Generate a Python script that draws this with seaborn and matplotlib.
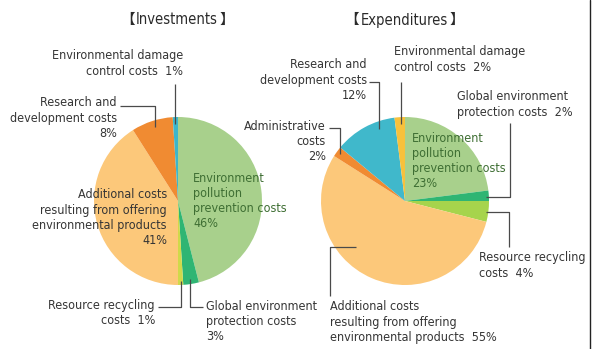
import matplotlib
matplotlib.use("Agg")
import matplotlib.pyplot as plt
import seaborn as sns

sns.set_theme(style="white")
plt.rcParams["font.family"] = ["DejaVu Sans"]
plt.rcParams["font.stretch"] = "condensed"

# Investments breakdown (%), clockwise from the top
inv_labels = ["Environment pollution prevention costs",
              "Global environment protection costs",
              "Resource recycling costs",
              "Additional costs resulting from offering environmental products",
              "Research and development costs",
              "Environmental damage control costs"]
inv_values = [46, 3, 1, 41, 8, 1]
inv_colors = ["#a8d08c", "#2fb573", "#cfd94a", "#fcc87a", "#f08b32", "#3cb6ca"]

# Expenditures breakdown (%), clockwise from the top
exp_labels = ["Environment pollution prevention costs",
              "Global environment protection costs",
              "Resource recycling costs",
              "Additional costs resulting from offering environmental products",
              "Administrative costs",
              "Research and development costs",
              "Environmental damage control costs"]
exp_values = [23, 2, 4, 55, 2, 12, 2]
exp_colors = ["#a8d08c", "#2fb573", "#a6d44c", "#fcc87a", "#f08b32", "#40b8cb", "#f7c13c"]

W, H = 597, 349
fig = plt.figure(figsize=(W / 100, H / 100), dpi=100)
fig.patch.set_facecolor("white")

TXT = "#353535"
GRN = "#3e6e33"
FS = 9.0


def pie_axes(cx, cy, r, values, colors):
    ax = fig.add_axes([(cx - r) / W, (H - cy - r) / H, 2 * r / W, 2 * r / H])
    ax.pie(values, colors=colors, startangle=90, counterclock=False,
           radius=1, wedgeprops=dict(linewidth=0))
    ax.set_xlim(-1, 1)
    ax.set_ylim(-1, 1)
    ax.set_aspect("equal")
    ax.axis("off")
    return ax


ax1 = pie_axes(178, 201, 84, inv_values, inv_colors)
ax2 = pie_axes(405, 201, 84, exp_values, exp_colors)

# overlay in pixel units for titles, labels and leader lines
ov = fig.add_axes([0, 0, 1, 1])
ov.set_xlim(0, W)
ov.set_ylim(H, 0)
ov.axis("off")
ov.patch.set_alpha(0)


def label(x, y, s, ha="left", color=TXT):
    ov.text(x, y - 7.5, s, ha=ha, va="top", fontsize=FS, color=color,
            linespacing=1.22, multialignment=ha)


def leader(xs, ys):
    ov.plot(xs, ys, color="#4a4a4a", lw=0.9, solid_capstyle="butt")


renderer = fig.canvas.get_renderer()
cjk = ["Noto Sans CJK JP", "DejaVu Sans"]


def title(x, y, word):
    t = ov.text(x, y, word, ha="center", va="center", fontsize=10.5, color="#2a2a2a")
    bb = t.get_window_extent(renderer)
    inv = ov.transData.inverted()
    (x0, _), (x1, _) = inv.transform([(bb.x0, 0), (bb.x1, 0)])
    ov.text(x0 - 1.5, y, "【", ha="right", va="center", fontsize=10.5,
            color="#2a2a2a", family=cjk, fontstretch="normal")
    ov.text(x1 + 1.5, y, "】", ha="left", va="center", fontsize=10.5,
            color="#2a2a2a", family=cjk, fontstretch="normal")


title(177, 20, "Investments")
title(404, 20, "Expenditures")

# Investments labels
label(183, 57, f"Environmental damage\ncontrol costs  {inv_values[5]}%", ha="right")
leader([175, 175], [84, 124])
label(117, 104, f"Research and\ndevelopment costs\n{inv_values[4]}%", ha="right")
leader([120, 155, 155], [106, 106, 127])
label(167, 196, f"Additional costs\nresulting from offering\nenvironmental products\n{inv_values[3]}%",
      ha="right")
label(193, 179, f"Environment\npollution\nprevention costs\n{inv_values[0]}%", color=GRN)
label(155, 306, f"Resource recycling\ncosts  {inv_values[2]}%", ha="right")
leader([158, 181, 181], [307, 307, 281])
label(206, 307, f"Global environment\nprotection costs\n{inv_values[1]}%")
leader([203, 190, 190], [307, 307, 279])

# Expenditures labels
label(394, 53, f"Environmental damage\ncontrol costs  {exp_values[6]}%")
leader([401, 401], [82, 124])
label(367, 66, f"Research and\ndevelopment costs\n{exp_values[5]}%", ha="right")
leader([369, 379, 379], [82, 82, 129])
label(326, 127, f"Administrative\ncosts\n{exp_values[4]}%", ha="right")
leader([329, 340, 340], [128, 128, 154])
label(412, 139, f"Environment\npollution\nprevention costs\n{exp_values[0]}%", color=GRN)
label(457, 98, f"Global environment\nprotection costs  {exp_values[1]}%")
leader([510, 510, 486], [123, 197, 197])
label(479, 259, f"Resource recycling\ncosts  {exp_values[2]}%")
leader([486, 509, 509], [212, 212, 247])
label(330, 308, f"Additional costs\nresulting from offering\nenvironmental products  {exp_values[3]}%")
leader([330, 330, 356], [296, 247, 247])

# right-hand frame rule
ov.plot([590, 590], [0, H], color="#222222", lw=1.0)

fig.savefig("out.png", dpi=100, facecolor="white")
